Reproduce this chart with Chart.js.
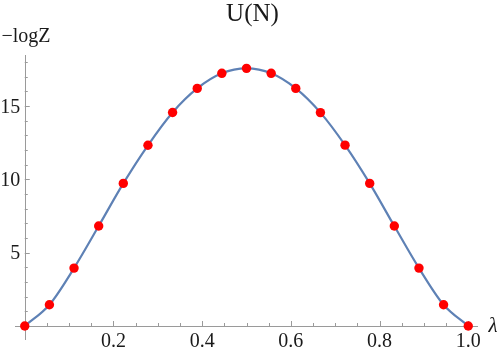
<!DOCTYPE html>
<html>
<head>
<meta charset="utf-8">
<script src="https://cdn.jsdelivr.net/npm/chart.js@4.4.1/dist/chart.umd.min.js"></script>
<style>
html,body{margin:0;padding:0;background:#fff;}
#wrap{width:500px;height:352px;}
</style>
</head>
<body>
<div id="wrap"><canvas id="c" width="500" height="352"></canvas></div>
<script>
// ---- data ----
const lambdaValues = [0, 0.0556, 0.1111, 0.1667, 0.2222, 0.2778, 0.3333, 0.3889, 0.4444, 0.5,
                      0.5556, 0.6111, 0.6667, 0.7222, 0.7778, 0.8333, 0.8889, 0.9444, 1.0];
const negLogZ = [0, 1.45, 3.95, 6.82, 9.73, 12.33, 14.57, 16.21, 17.24, 17.58,
                 17.24, 16.21, 14.56, 12.34, 9.73, 6.82, 3.95, 1.45, 0];
const xTickValues = [0.2, 0.4, 0.6, 0.8, 1.0];
const xTickLabels = ['0.2', '0.4', '0.6', '0.8', '1.0'];
const yTickValues = [5, 10, 15];
const yTickLabels = ['5', '10', '15'];
const titleText = 'U(N)';
const yAxisTitle = '\u2212logZ';
const xAxisTitle = '\u03bb';

const SERIF = '"Liberation Serif", "Times New Roman", serif';
const AXIS_COLOR = '#9a9a9a';
const TEXT_COLOR = '#1a1a1a';

const axesPlugin = {
  id: 'mmaAxes',
  beforeDatasetsDraw(chart) {
    const ctx = chart.ctx, xs = chart.scales.x, ys = chart.scales.y, a = chart.chartArea;
    const x0 = xs.getPixelForValue(0), y0 = ys.getPixelForValue(0);
    ctx.save();
    ctx.strokeStyle = AXIS_COLOR;
    ctx.lineWidth = 1;
    ctx.beginPath();
    ctx.moveTo(a.left, Math.round(y0) + 0.5); ctx.lineTo(a.right, Math.round(y0) + 0.5);
    ctx.moveTo(Math.round(x0) + 0.5, a.top); ctx.lineTo(Math.round(x0) + 0.5, a.bottom);
    for (let k = 1; k <= 20; k++) {
      const v = k * 0.05;
      const px = Math.round(xs.getPixelForValue(v)) + 0.5;
      const len = (k % 4 === 0) ? 5 : 3;
      ctx.moveTo(px, y0); ctx.lineTo(px, y0 - len);
    }
    for (let k = 1; k <= 18; k++) {
      const py = Math.round(ys.getPixelForValue(k)) + 0.5;
      const len = (k % 5 === 0) ? 5 : 3;
      ctx.moveTo(x0, py); ctx.lineTo(x0 + len, py);
    }
    ctx.stroke();

    ctx.fillStyle = TEXT_COLOR;
    ctx.font = '20px ' + SERIF;
    ctx.textBaseline = 'alphabetic';
    ctx.textAlign = 'center';
    xTickValues.forEach((v, i) => {
      ctx.fillText(xTickLabels[i], xs.getPixelForValue(v), y0 + 21);
    });
    ctx.textAlign = 'right';
    yTickValues.forEach((v, i) => {
      ctx.fillText(yTickLabels[i], x0 - 4.5, ys.getPixelForValue(v) + 6.5);
    });
    ctx.fillText(yAxisTitle, 50.5, 41.5);
    ctx.font = 'italic 21px ' + SERIF;
    ctx.textAlign = 'left';
    ctx.fillText(xAxisTitle, 488.5, y0 + 6);
    ctx.font = '25px ' + SERIF;
    ctx.textAlign = 'center';
    ctx.fillText(titleText, 252.5, 21);
    ctx.restore();
  }
};

new Chart(document.getElementById('c'), {
  type: 'line',
  data: {
    datasets: [{
      data: lambdaValues.map((x, i) => ({ x: x, y: negLogZ[i] })),
      borderColor: '#5E81B5',
      borderWidth: 2.2,
      cubicInterpolationMode: 'monotone',
      pointRadius: 4.7,
      pointBackgroundColor: '#FF0000',
      pointBorderWidth: 0,
      pointBorderColor: '#FF0000',
      clip: false,
      fill: false
    }]
  },
  options: {
    responsive: false,
    animation: false,
    devicePixelRatio: 1,
    layout: { padding: { left: 15, right: 22, top: 55, bottom: 12 } },
    plugins: { legend: { display: false }, tooltip: { enabled: false }, title: { display: false } },
    scales: {
      x: { type: 'linear', min: -0.022, max: 1.022, display: false },
      y: { type: 'linear', min: -0.955, max: 18.49, display: false }
    }
  },
  plugins: [axesPlugin]
});
</script>
</body>
</html>
